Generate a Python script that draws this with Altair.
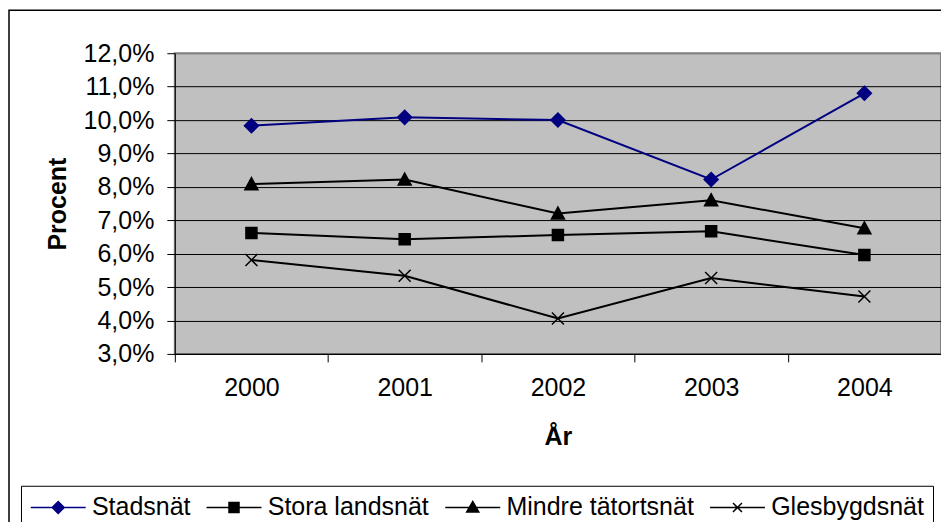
import altair as alt
import pandas as pd

years = ["2000", "2001", "2002", "2003", "2004"]
series_names = ["Stadsnät", "Stora landsnät", "Mindre tätortsnät", "Glesbygdsnät"]
stadsnat = [9.83, 10.08, 10.0, 8.22, 10.8]
stora = [6.62, 6.43, 6.56, 6.67, 5.96]
mindre = [8.08, 8.22, 7.2, 7.6, 6.76]
gles = [5.81, 5.34, 4.06, 5.27, 4.72]
y_ticks = [3, 4, 5, 6, 7, 8, 9, 10, 11, 12]

colors = ["#000080", "#000000", "#000000", "#000000"]
marker_paths = [
    "M0,-1.4L1.4,0L0,1.4L-1.4,0Z",
    "M-1.1,-1.1H1.1V1.1H-1.1Z",
    "M-1.3,1.1L0,-1.3L1.3,1.1Z",
    "M-1.2,-1.2L1.2,1.2M-1.2,1.2L1.2,-1.2",
]
legend_paths = [
    "M-1.175,0L4.325,0M0.975,0L1.575,-0.6L2.175,0L1.575,0.6Z",
    "M-1.175,0L4.325,0M1.075,-0.5L2.075,-0.5L2.075,0.5L1.075,0.5Z",
    "M-1.175,0L4.325,0M0.975,0.45L1.575,-0.6L2.175,0.45Z",
    "M-1.175,0L4.325,0M1.125,-0.45L2.025,0.45M1.125,0.45L2.025,-0.45",
]

rows = []
for name, vals in zip(series_names, [stadsnat, stora, mindre, gles]):
    for yr, v in zip(years, vals):
        rows.append({"year": yr, "series": name, "value": v})
df = pd.DataFrame(rows)

FONT = "Liberation Sans"

x_enc = alt.X(
    "year:N",
    sort=years,
    scale=alt.Scale(type="band", paddingInner=0, paddingOuter=0),
    axis=alt.Axis(
        title="År", labelAngle=0, tickBand="extent", tickSize=8,
        labelPadding=14, labelFontSize=25, labelFont=FONT, labelColor="#000",
        titleFontSize=25, titleFont=FONT, titleFontWeight="bold", titleColor="#000",
        titleX=383.5, titleY=83, titleBaseline="middle", titleAlign="center",
        domainColor="#000", tickColor="#000", grid=False,
    ),
)
y_enc = alt.Y(
    "value:Q",
    scale=alt.Scale(domain=[3, 12], nice=False, zero=False),
    axis=alt.Axis(
        values=y_ticks,
        labelExpr="replace(format(datum.value, '.1f'), '.', ',') + '%'",
        title="Procent", tickSize=8, labelPadding=13,
        labelFontSize=25, labelFont=FONT, labelColor="#000",
        titleFontSize=25, titleFont=FONT, titleFontWeight="bold", titleColor="#000",
        titleAngle=-90, titleX=-117, titleY=150.5, titleBaseline="middle", titleAlign="center",
        domainColor="#000", tickColor="#000",
        grid=True, gridColor={"condition": {"test": "datum.value >= 12", "value": "#808080"}, "value": "#000"},
        gridWidth=1,
    ),
)

base = alt.Chart(df)

frame = alt.Chart(alt.Data(values=[{"a": 1}])).mark_rect(
    fillOpacity=0, stroke="#000", strokeWidth=1.5
).encode(x=alt.value(-166), x2=alt.value(800), y=alt.value(-43), y2=alt.value(700))

line_layers = []
marker_layers = []
for name, path, col in zip(series_names, marker_paths, colors):
    sub = base.transform_filter(alt.datum.series == name)
    line_layers.append(sub.mark_line(color=col, strokeWidth=2).encode(x=x_enc, y=y_enc))
    marker_layers.append(
        sub.mark_point(
            shape=path, size=100, filled=True, fill=col, stroke=col, strokeWidth=1.5, opacity=1
        ).encode(x=x_enc, y=y_enc)
    )

leg = alt.Legend(
    title=None, orient="none", legendX=-154, legendY=433, direction="horizontal", columns=4,
    labelFont=FONT, labelFontSize=25, labelColor="#000", labelLimit=400,
    strokeColor="#000", fillColor="#ffffff", padding=9, columnPadding=12, labelOffset=37,
    symbolSize=400, symbolStrokeWidth=1.5, symbolOpacity=1,
)
legend_layer = base.mark_point(filled=True, size=400, strokeWidth=1.5, opacity=0).encode(
    x=x_enc, y=y_enc,
    shape=alt.Shape("series:N", scale=alt.Scale(domain=series_names, range=legend_paths), legend=leg),
    fill=alt.Fill("series:N", scale=alt.Scale(domain=series_names, range=colors), legend=leg),
    stroke=alt.Stroke("series:N", scale=alt.Scale(domain=series_names, range=colors), legend=leg),
)

chart = alt.layer(frame, *line_layers, *marker_layers, legend_layer).properties(
    width=767, height=301,
    autosize=alt.AutoSizeParams(type="none"),
    padding={"left": 167, "top": 45, "right": 0, "bottom": 168},
    background="white",
).configure(
    font=FONT,
    view=alt.ViewConfig(fill="#C0C0C0", stroke="#808080", strokeWidth=2),
)

chart.save("out.html", embed_options={"renderer": "svg", "actions": False})
